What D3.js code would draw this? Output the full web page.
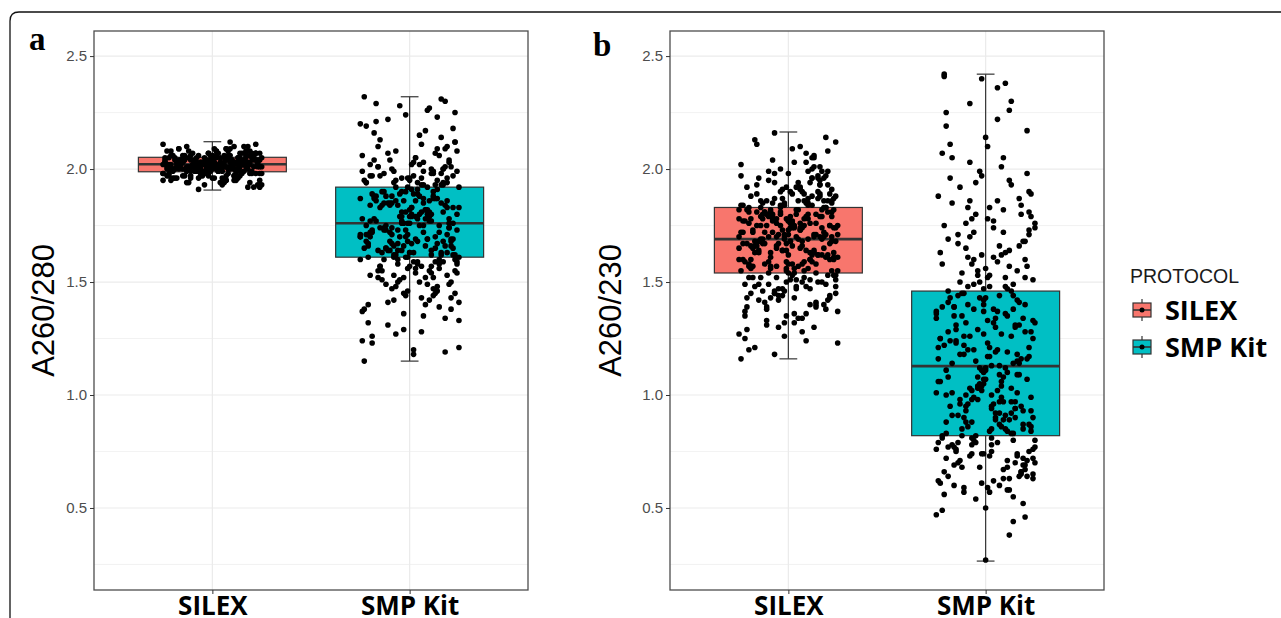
<!DOCTYPE html>
<html>
<head>
<meta charset="utf-8">
<script src="https://cdn.jsdelivr.net/npm/d3@7"></script>
<style>
    body { margin: 0; background: #fff; }
</style>
</head>
<body>
<svg id="chart" width="1281" height="618"></svg>
<script>
const protocols = ['SILEX', 'SMP Kit']
const colors = ['#F8766D', '#00BFC4']
const yTicks = [0.5, 1.0, 1.5, 2.0, 2.5]
const yMinor = [0.25, 0.75, 1.25, 1.75, 2.25]

// box stats: [lower whisker, q1, median, q3, upper whisker]
const boxA = [[1.907, 1.988, 2.021, 2.052, 2.121], [1.15, 1.61, 1.76, 1.92, 2.32]]
const boxB = [[1.16, 1.54, 1.69, 1.83, 2.164], [0.265, 0.82, 1.128, 1.46, 2.42]]

// jitter offsets, in percent of the category step, shared by every group
const jitter = [
    -18, 7, 22, -3, 14, -25, 9, -11, 1, 19, -7, 24, -15, 4, -21, 12, -1, 17, -9, 6,
    23, -13, 2, -19, 10, -5, 16, -23, 8, -2, 20, -16, 5, -10, 25, -6, 13, -20, 0, 18,
    -12, 3, 21, -24, 11, -8, 15, -4, 24, -17, 6, -22, 1, 9, -14, 19, -1, 13, -7, 22,
    -20, 4, -11, 17, -3, 8, -25, 14, -9, 23, 0, -15, 10, -6, 20, -18, 2, 12, -21, 7,
    16, -2, -13, 25, -8, 5, 21, -19, 11, -4, 1, 18, -23, 9, -10, 14, -16, 3, 22, -7,
    -1, 19, -12, 6, -24, 13, 2, -17, 24, -5, 10, -20, 15, -9, 4, 20, -14, 7, -22, 12,
    8, -15, 23, -3, 17, -11, 0, -18, 5, 21, -6, 11, -25, 16, -2, 9, -19, 24, -8, 3,
    -10, 14, -21, 1, 18, -4, 12, -16, 7, -23, 22, -1, 6, -13, 15, -7, 25, -20, 2, 10,
    20, -9, 4, -14, 13, -24, 8, -2, 19, -12, 0, 16, -6, 23, -17, 11, -3, 5, -21, 17,
    -5, 12, -19, 24, -8, 2, 15, -11, 21, -1, 9, -22, 18, -15, 6, -4, 14, -25, 3, 22,
    11, -16, 1, -7, 20, -13, 25, -2, 7, -20, 13, -10, 4, 17, -23, 10, -5, 19, -12, 0,
    -22, 8, 16, -6, 3, -18, 23, -9, 12, -3, 18, -14, 5, -24, 21, -1, 9, -11, 15, -17,
    6, -21, 14, -4, 24, -12, 2, 19, -8, 11, -19, 7, -2, 22, -15, 0, 17, -7, 10, -25,
    13, -3, -16, 20, -10, 4, 25, -20, 8, -6, 16, -13, 1, 12, -22, 18, -9, 3, -1, 23,
    -14, 9, -24, 15, 0, -8, 21, -17, 5, 14, -4, 24, -11, 7, -19, 19, -2, 11, -21, 2,
    17, -7, 10, -23, 3, 22, -15, 13, -1, -12, 20, -5, 8, -18, 16, -9, 1, 25, -13, 6,
    -4, 21, -20, 11, -10, 18, 0, -25, 14, -6, 7, -16, 23, -3, 12, -22, 4, 15, -8, 19,
    2, -11, 24, -19, 9, -1, 16, -14, 6, -24, 13, -5, 20, -10, 3, -17, 22, -2, 10, -7
]

// A260/280 samples (x100)
const silexA = [
    203, 197, 207, 200, 201, 195, 209, 204, 202, 198, 206, 192, 203, 200, 208, 196, 204, 201, 199, 205,
    202, 194, 206, 200, 203, 198, 210, 201, 204, 197, 205, 202, 199, 207, 193, 203, 200, 206, 196, 202,
    208, 199, 201, 204, 195, 205, 202, 198, 207, 200, 203, 197, 209, 201, 204, 194, 206, 202, 199, 211,
    200, 205, 196, 203, 201, 208, 198, 204, 202, 193, 206, 200, 203, 197, 207, 201, 205, 199, 202, 195,
    204, 198, 210, 201, 203, 196, 206, 200, 202, 199, 205, 192, 208, 203, 201, 197, 204, 200, 207, 202,
    199, 206, 201, 194, 203, 205, 200, 209, 198, 202, 204, 196, 207, 201, 203, 199, 205, 195, 202, 200,
    206, 197, 203, 201, 208, 199, 204, 202, 193, 205, 200, 210, 198, 203, 201, 206, 196, 204, 202, 199,
    201, 207, 195, 203, 200, 205, 198, 202, 209, 197, 204, 201, 206, 199, 203, 191, 205, 200, 208, 202,
    198, 204, 201, 206, 196, 203, 200, 207, 202, 194, 205, 199, 203, 201, 209, 197, 204, 202, 200, 206,
    203, 195, 205, 201, 199, 208, 202, 197, 204, 200, 212, 198, 203, 206, 201, 193, 205, 202, 199, 207,
    200, 204, 196, 202, 206, 201, 198, 203, 209, 199, 205, 202, 194, 207, 200, 204, 197, 203, 201, 206,
    205, 198, 202, 200, 207, 196, 204, 201, 203, 199, 210, 197, 202, 205, 192, 203, 200, 206, 198, 204,
    201, 206, 199, 203, 195, 205, 202, 208, 200, 197, 204, 201, 207, 198, 203, 200, 205, 196, 202, 211
]
const smpA = [
    178, 203, 165, 152, 187, 170, 226, 141, 183, 163, 195, 158, 174, 189, 132, 199, 168, 181, 147, 211,
    162, 185, 197, 172, 155, 179, 214, 138, 166, 190, 149, 201, 175, 184, 121, 164, 193, 177, 157, 230,
    188, 169, 143, 206, 180, 161, 156, 196, 173, 186, 128, 219, 167, 182, 151, 194, 171, 159, 208, 176,
    153, 191, 164, 200, 136, 178, 170, 223, 185, 145, 163, 197, 181, 158, 174, 204, 118, 187, 166, 193,
    198, 173, 160, 183, 142, 215, 168, 189, 154, 177, 202, 134, 165, 192, 172, 148, 210, 179, 162, 186,
    146, 196, 175, 181, 124, 207, 163, 188, 159, 170, 227, 184, 139, 167, 194, 178, 155, 199, 171, 190,
    182, 157, 212, 166, 194, 131, 176, 187, 150, 201, 173, 162, 220, 185, 144, 169, 197, 180, 153, 205,
    168, 195, 140, 179, 209, 164, 188, 152, 172, 232, 183, 161, 157, 198, 175, 127, 192, 170, 203, 186,
    203, 174, 158, 190, 165, 137, 217, 181, 171, 149, 195, 163, 184, 160, 229, 177, 145, 188, 167, 200,
    189, 152, 173, 199, 162, 120, 206, 185, 169, 156, 180, 194, 166, 213, 143, 176, 191, 160, 154, 197,
    164, 201, 183, 148, 176, 190, 161, 224, 135, 172, 187, 204, 159, 168, 195, 179, 151, 210, 165, 182,
    175, 140, 193, 167, 186, 216, 155, 171, 198, 129, 184, 163, 202, 178, 150, 192, 169, 222, 158, 177,
    196, 161, 146, 181, 208, 173, 189, 153, 166, 200, 123, 185, 170, 218, 157, 179, 193, 162, 142, 187,
    170, 186, 155, 204, 164, 178, 133, 197, 182, 160, 231, 174, 191, 147, 168, 201, 188, 156, 176, 212,
    184, 149, 199, 172, 163, 194, 138, 221, 180, 167, 190, 154, 207, 175, 126, 186, 161, 198, 171, 159,
    159, 192, 177, 115, 205, 169, 183, 145, 196, 165, 174, 228, 152, 188, 162, 200, 180, 141, 173, 193,
    179, 166, 202, 157, 185, 119, 196, 171, 209, 150, 187, 164, 225, 176, 144, 194, 168, 160, 199, 183
]

// A260/230 samples (x100)
const silexB = [
    172, 158, 191, 147, 180, 165, 203, 138, 176, 161, 187, 151, 168, 182, 129, 196, 156, 174, 143, 210,
    163, 185, 153, 178, 199, 144, 170, 160, 189, 132, 181, 166, 194, 149, 175, 157, 206, 120, 171, 186,
    181, 154, 167, 197, 140, 177, 162, 184, 148, 213, 173, 159, 190, 136, 169, 183, 155, 201, 145, 179,
    157, 192, 175, 150, 164, 186, 127, 171, 182, 160, 198, 142, 178, 166, 208, 152, 174, 188, 139, 168,
    195, 146, 180, 161, 172, 134, 189, 156, 176, 200, 151, 165, 184, 124, 179, 158, 193, 143, 170, 216,
    167, 183, 141, 174, 155, 205, 177, 163, 188, 130, 169, 152, 196, 181, 147, 162, 175, 190, 137, 159,
    178, 149, 187, 164, 199, 133, 173, 157, 182, 144, 170, 194, 160, 179, 126, 185, 166, 153, 204, 175,
    154, 176, 192, 168, 140, 181, 162, 211, 150, 172, 186, 135, 165, 178, 197, 146, 171, 158, 189, 180,
    186, 163, 148, 179, 170, 202, 155, 184, 138, 167, 177, 193, 152, 174, 121, 160, 191, 169, 143, 182,
    171, 196, 157, 145, 180, 166, 187, 131, 175, 159, 207, 149, 183, 164, 173, 190, 139, 178, 156, 168,
    160, 181, 174, 198, 142, 169, 155, 185, 128, 176, 163, 195, 151, 179, 167, 184, 147, 214, 172, 158,
    177, 152, 189, 165, 136, 173, 182, 161, 200, 144, 170, 186, 157, 116, 175, 192, 164, 180, 150, 168,
    192, 167, 141, 183, 174, 158, 209, 149, 179, 163, 188, 134, 171, 155, 196, 177, 162, 145, 185, 170,
    164, 187, 175, 153, 199, 170, 137, 181, 159, 176, 193, 146, 168, 184, 125, 172, 156, 203, 178, 161,
    183, 148, 172, 190, 162, 178, 143, 166, 186, 154, 180, 212, 139, 174, 160, 197, 169, 151, 182, 176,
    169, 194, 156, 177, 132, 185, 163, 171, 150, 181, 199, 142, 175, 165, 188, 157, 179, 123, 167, 191,
    175, 160, 183, 147, 170, 196, 154, 182, 140, 178, 166, 189, 153, 173, 205, 135, 180, 162, 185, 171,
    158, 186, 168, 145, 179, 164, 201, 152, 176, 184, 130, 167, 193, 159, 174, 148, 181, 170, 187, 118
]
const smpB = [
    124, 92, 171, 68, 138, 101, 205, 57, 117, 87, 158, 76, 131, 96, 241, 63, 142, 109, 183, 79,
    99, 150, 73, 128, 85, 194, 115, 61, 162, 104, 46, 135, 90, 176, 70, 120, 83, 219, 111, 66,
    145, 78, 107, 188, 58, 126, 94, 153, 72, 114, 236, 81, 133, 97, 167, 52, 140, 103, 178, 75,
    88, 161, 118, 64, 199, 106, 136, 80, 148, 93, 27, 129, 112, 172, 69, 143, 84, 226, 122, 60,
    155, 102, 71, 132, 186, 89, 116, 77, 147, 98, 210, 65, 125, 108, 165, 55, 139, 95, 181, 74,
    110, 168, 82, 137, 62, 193, 121, 91, 151, 79, 238, 100, 130, 86, 174, 67, 144, 113, 49, 157,
    127, 76, 179, 105, 141, 59, 214, 95, 119, 71, 160, 84, 134, 109, 197, 63, 146, 90, 170, 81,
    93, 149, 66, 123, 184, 103, 38, 139, 87, 163, 117, 74, 222, 98, 131, 78, 176, 111, 57, 152,
    140, 96, 177, 70, 126, 106, 201, 61, 134, 85, 156, 118, 80, 189, 101, 68, 143, 92, 242, 114,
    82, 164, 108, 133, 73, 183, 97, 122, 64, 147, 89, 207, 116, 75, 159, 104, 44, 137, 94, 173,
    119, 69, 152, 88, 128, 192, 77, 111, 144, 83, 230, 100, 62, 166, 125, 91, 180, 72, 135, 107,
    158, 99, 74, 138, 113, 196, 86, 120, 58, 150, 95, 171, 130, 79, 217, 105, 67, 145, 90, 185,
    102, 175, 83, 129, 65, 154, 117, 93, 203, 71, 141, 109, 162, 87, 124, 50, 187, 98, 136, 76,
    146, 112, 60, 168, 95, 132, 80, 225, 104, 149, 73, 118, 178, 89, 139, 66, 161, 100, 127, 84,
    91, 182, 121, 70, 143, 103, 198, 78, 134, 114, 155, 63, 126, 97, 169, 85, 240, 110, 56, 148,
    131, 81, 163, 106, 75, 190, 123, 92, 137, 68, 152, 115, 86, 211, 101, 140, 59, 174, 96, 120,
    108, 157, 72, 135, 88, 180, 112, 47, 144, 99, 166, 77, 128, 103, 195, 82, 138, 94, 229, 69,
    153, 90, 125, 64, 172, 107, 142, 79, 186, 116, 97, 54, 160, 132, 85, 205, 121, 74, 148, 102
]

const svg = d3.select('#chart')
const plotTop = 31, plotBottom = 590
const yDomain = [0.137, 2.611]

// outer figure frame, only top-left corner is visible
svg.append('path')
    .attr('d', 'M10,618 V21 Q10,12 19,12 H1281')
    .attr('fill', 'none')
    .attr('stroke', '#111')
    .attr('stroke-width', 1.3)

const panels = [
    {left: 94, right: 528, label: 'a', labelX: 29, labelY: 50, title: 'A260/280', titleX: 54, boxes: boxA, points: [silexA, smpA]},
    {left: 670, right: 1104, label: 'b', labelX: 593, labelY: 56, title: 'A260/230', titleX: 621, boxes: boxB, points: [silexB, smpB]}
]

const drawPanel = p => {

    let y = d3.scaleLinear().domain(yDomain).range([plotBottom, plotTop])
    let x = d3.scalePoint().domain(protocols).range([p.left, p.right]).padding(0.6)
    let step = x.step()

    let g = svg.append('g')

    // grid
    g.selectAll('.minor').data(yMinor).enter().append('line')
        .attr('x1', p.left).attr('x2', p.right)
        .attr('y1', d => y(d)).attr('y2', d => y(d))
        .attr('stroke', '#ededed').attr('stroke-width', 0.7)
    g.selectAll('.major').data(yTicks).enter().append('line')
        .attr('x1', p.left).attr('x2', p.right)
        .attr('y1', d => y(d)).attr('y2', d => y(d))
        .attr('stroke', '#ebebeb').attr('stroke-width', 1.2)
    g.selectAll('.xgrid').data(protocols).enter().append('line')
        .attr('x1', d => x(d)).attr('x2', d => x(d))
        .attr('y1', plotTop).attr('y2', plotBottom)
        .attr('stroke', '#ebebeb').attr('stroke-width', 1.2)

    // whiskers + boxes
    protocols.forEach((name, i) => {
        let s = p.boxes[i], cx = x(name), hw = step * 0.375, cw = step * 0.045
        g.append('line')
            .attr('x1', cx).attr('x2', cx).attr('y1', y(s[0])).attr('y2', y(s[4]))
            .attr('stroke', '#333').attr('stroke-width', 1.2)
        for (let v of [s[0], s[4]]) {
            g.append('line')
                .attr('x1', cx - cw).attr('x2', cx + cw).attr('y1', y(v)).attr('y2', y(v))
                .attr('stroke', '#333').attr('stroke-width', 1.2)
        }
        g.append('rect')
            .attr('x', cx - hw).attr('width', 2 * hw)
            .attr('y', y(s[3])).attr('height', y(s[1]) - y(s[3]))
            .attr('fill', colors[i]).attr('stroke', '#333').attr('stroke-width', 1.2)
        g.append('line')
            .attr('x1', cx - hw).attr('x2', cx + hw).attr('y1', y(s[2])).attr('y2', y(s[2]))
            .attr('stroke', '#333').attr('stroke-width', 2.6)
    })

    // jittered samples
    protocols.forEach((name, i) => {
        g.selectAll(null).data(p.points[i]).enter().append('circle')
            .attr('cx', (d, j) => x(name) + jitter[j] / 100 * step)
            .attr('cy', d => y(d / 100))
            .attr('r', 2.8)
            .attr('fill', '#000')
    })

    g.append('rect')
        .attr('x', p.left).attr('y', plotTop)
        .attr('width', p.right - p.left).attr('height', plotBottom - plotTop)
        .attr('fill', 'none').attr('stroke', '#4d4d4d').attr('stroke-width', 1.3)

    // axes
    let ya = g.append('g')
        .attr('transform', `translate(${p.left},0)`)
        .call(d3.axisLeft(y).tickValues(yTicks).tickFormat(d3.format('.1f')).tickSize(4).tickPadding(3))
    ya.select('.domain').remove()
    ya.selectAll('line').attr('stroke', '#333')
    ya.selectAll('text')
        .attr('fill', '#4d4d4d')
        .style('font-family', '"Liberation Sans", Arial, sans-serif')
        .style('font-size', '15px')

    let xa = g.append('g')
        .attr('transform', `translate(0,${plotBottom})`)
        .call(d3.axisBottom(x).tickSize(4).tickPadding(3))
    xa.select('.domain').remove()
    xa.selectAll('line').attr('stroke', '#333')
    xa.selectAll('text')
        .attr('fill', '#000')
        .style('font-family', '"Open Sans", "Noto Sans", sans-serif')
        .style('font-weight', 'bold')
        .style('font-size', '26px')

    g.append('text')
        .attr('transform', `translate(${p.titleX},${(plotTop + plotBottom) / 2}) rotate(-90)`)
        .attr('text-anchor', 'middle')
        .style('font-family', '"Liberation Sans", Arial, sans-serif')
        .style('font-size', '31px')
        .text(p.title)

    g.append('text')
        .attr('x', p.labelX).attr('y', p.labelY)
        .style('font-family', '"Liberation Serif", "Times New Roman", serif')
        .style('font-weight', 'bold')
        .style('font-size', '33px')
        .text(p.label)
}

panels.forEach(drawPanel)

// legend
let legend = svg.append('g').attr('transform', 'translate(1130,0)')
legend.append('text')
    .attr('x', 0).attr('y', 283)
    .attr('fill', '#1a1a1a')
    .style('font-family', '"Liberation Sans", Arial, sans-serif')
    .style('font-size', '19.5px')
    .text('PROTOCOL')

protocols.forEach((name, i) => {
    let cy = 310 + i * 37
    let k = legend.append('g').attr('transform', `translate(12,${cy})`)
    k.append('line').attr('x1', 0).attr('x2', 0).attr('y1', -11).attr('y2', 11)
        .attr('stroke', '#333').attr('stroke-width', 1.2)
    k.append('rect').attr('x', -9).attr('y', -7).attr('width', 18).attr('height', 14)
        .attr('fill', colors[i]).attr('stroke', '#333').attr('stroke-width', 1.2)
    k.append('line').attr('x1', -9).attr('x2', 9).attr('y1', 0).attr('y2', 0)
        .attr('stroke', '#333').attr('stroke-width', 1.6)
    k.append('circle').attr('r', 2.5).attr('fill', '#000')
    legend.append('text')
        .attr('x', 35).attr('y', cy + 9.5)
        .style('font-family', '"Open Sans", "Noto Sans", sans-serif')
        .style('font-weight', 'bold')
        .style('font-size', '27px')
        .text(name)
})
</script>
</body>
</html>
